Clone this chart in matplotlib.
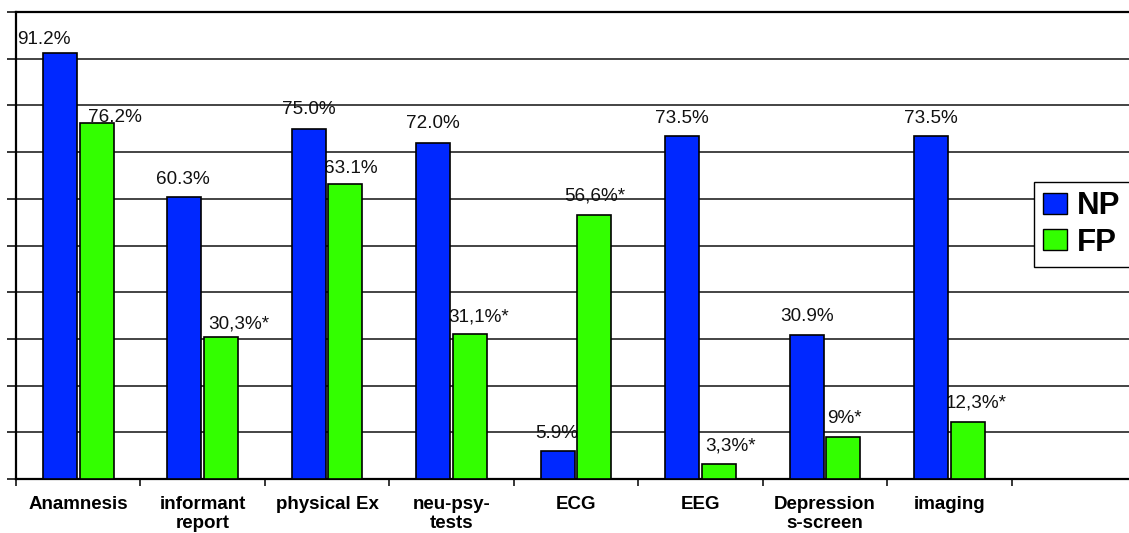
import numpy as np
import matplotlib
matplotlib.use('Agg')
import matplotlib.pyplot as plt
from matplotlib.patches import Patch

# data
categories = ['Anamnesis', 'informant\nreport', 'physical Ex', 'neu-psy-\ntests',
              'ECG', 'EEG', 'Depression\ns-screen', 'imaging']
np_values = [91.2, 60.3, 75.0, 72.0, 5.9, 73.5, 30.9, 73.5]
fp_values = [76.2, 30.3, 63.1, 31.1, 56.6, 3.3, 9.0, 12.3]
np_labels = ['91.2%', '60.3%', '75.0%', '72.0%', '5.9%', '73.5%', '30.9%', '73.5%']
fp_labels = ['76.2%', '30,3%*', '63.1%', '31,1%*', '56,6%*', '3,3%*', '9%*', '12,3%*']

# label nudges in pixels (dx, dy above bar top)
np_dx = [-16, -1, 0, 0, -1, 0, 0, 0]
np_dy = [9, 13, 15, 15, 13, 13, 14, 13]
fp_dx = [18, 18, 5, 9, 0, 12, 1, 8]
fp_dy = [1, 9, 11, 12, 14, 13, 14, 14]

plt.rcParams['font.family'] = ['Liberation Sans', 'DejaVu Sans']

fig = plt.figure(figsize=(11.29, 5.33), dpi=100)
ax = fig.add_axes([16 / 1129, 54 / 533, 1120 / 1129, 467 / 533])

x = np.arange(len(categories)) + 0.5
w = 0.273
off = 0.147
blue = '#0028FF'
green = '#33FF00'

ax.bar(x - off, np_values, w, color=blue, edgecolor='black', linewidth=1.2, zorder=3)
ax.bar(x + off, fp_values, w, color=green, edgecolor='black', linewidth=1.2, zorder=3)

for i in range(len(categories)):
    ax.annotate(np_labels[i], (x[i] - off, np_values[i]), xytext=(np_dx[i], np_dy[i]),
                textcoords='offset pixels', ha='center', va='baseline',
                fontsize=13.6, color='#111111', zorder=2)
    ax.annotate(fp_labels[i], (x[i] + off, fp_values[i]), xytext=(fp_dx[i], fp_dy[i]),
                textcoords='offset pixels', ha='center', va='baseline',
                fontsize=13.6, color='#111111', zorder=2)

ax.set_xlim(0, 9)
ax.set_ylim(0, 100)
ax.set_yticks(np.arange(0, 101, 10))
ax.set_yticklabels([])
ax.yaxis.grid(True, color='#111111', linewidth=1.1, zorder=0)
ax.set_axisbelow(True)
ax.tick_params(axis='y', direction='out', length=6.5, width=1.1)

ax.set_xticks(np.arange(0, 10))
ax.set_xticklabels([])
ax.tick_params(axis='x', which='major', direction='out', length=5, width=1.1)
ax.set_xticks(x, minor=True)
ax.set_xticklabels(categories, minor=True, fontsize=13.5, fontweight='bold', linespacing=1.2)
ax.tick_params(axis='x', which='minor', length=0, pad=12)

for s in ['left', 'top', 'bottom']:
    ax.spines[s].set_linewidth(1.6)
    ax.spines[s].set_color('black')
ax.spines['right'].set_visible(False)

handles = [Patch(facecolor=blue, edgecolor='black'), Patch(facecolor=green, edgecolor='black')]
fig.legend(handles, ['NP', 'FP'], loc='upper left', bbox_to_anchor=(1034 / 1129, 1 - 182 / 533),
           prop={'weight': 'bold', 'size': 22.5}, frameon=True, fancybox=False,
           edgecolor='black', framealpha=1, handlelength=0.75, handleheight=0.65,
           handletextpad=0.33, labelspacing=0.2, borderpad=0.3, borderaxespad=0)

fig.savefig('out.png', dpi=100)
